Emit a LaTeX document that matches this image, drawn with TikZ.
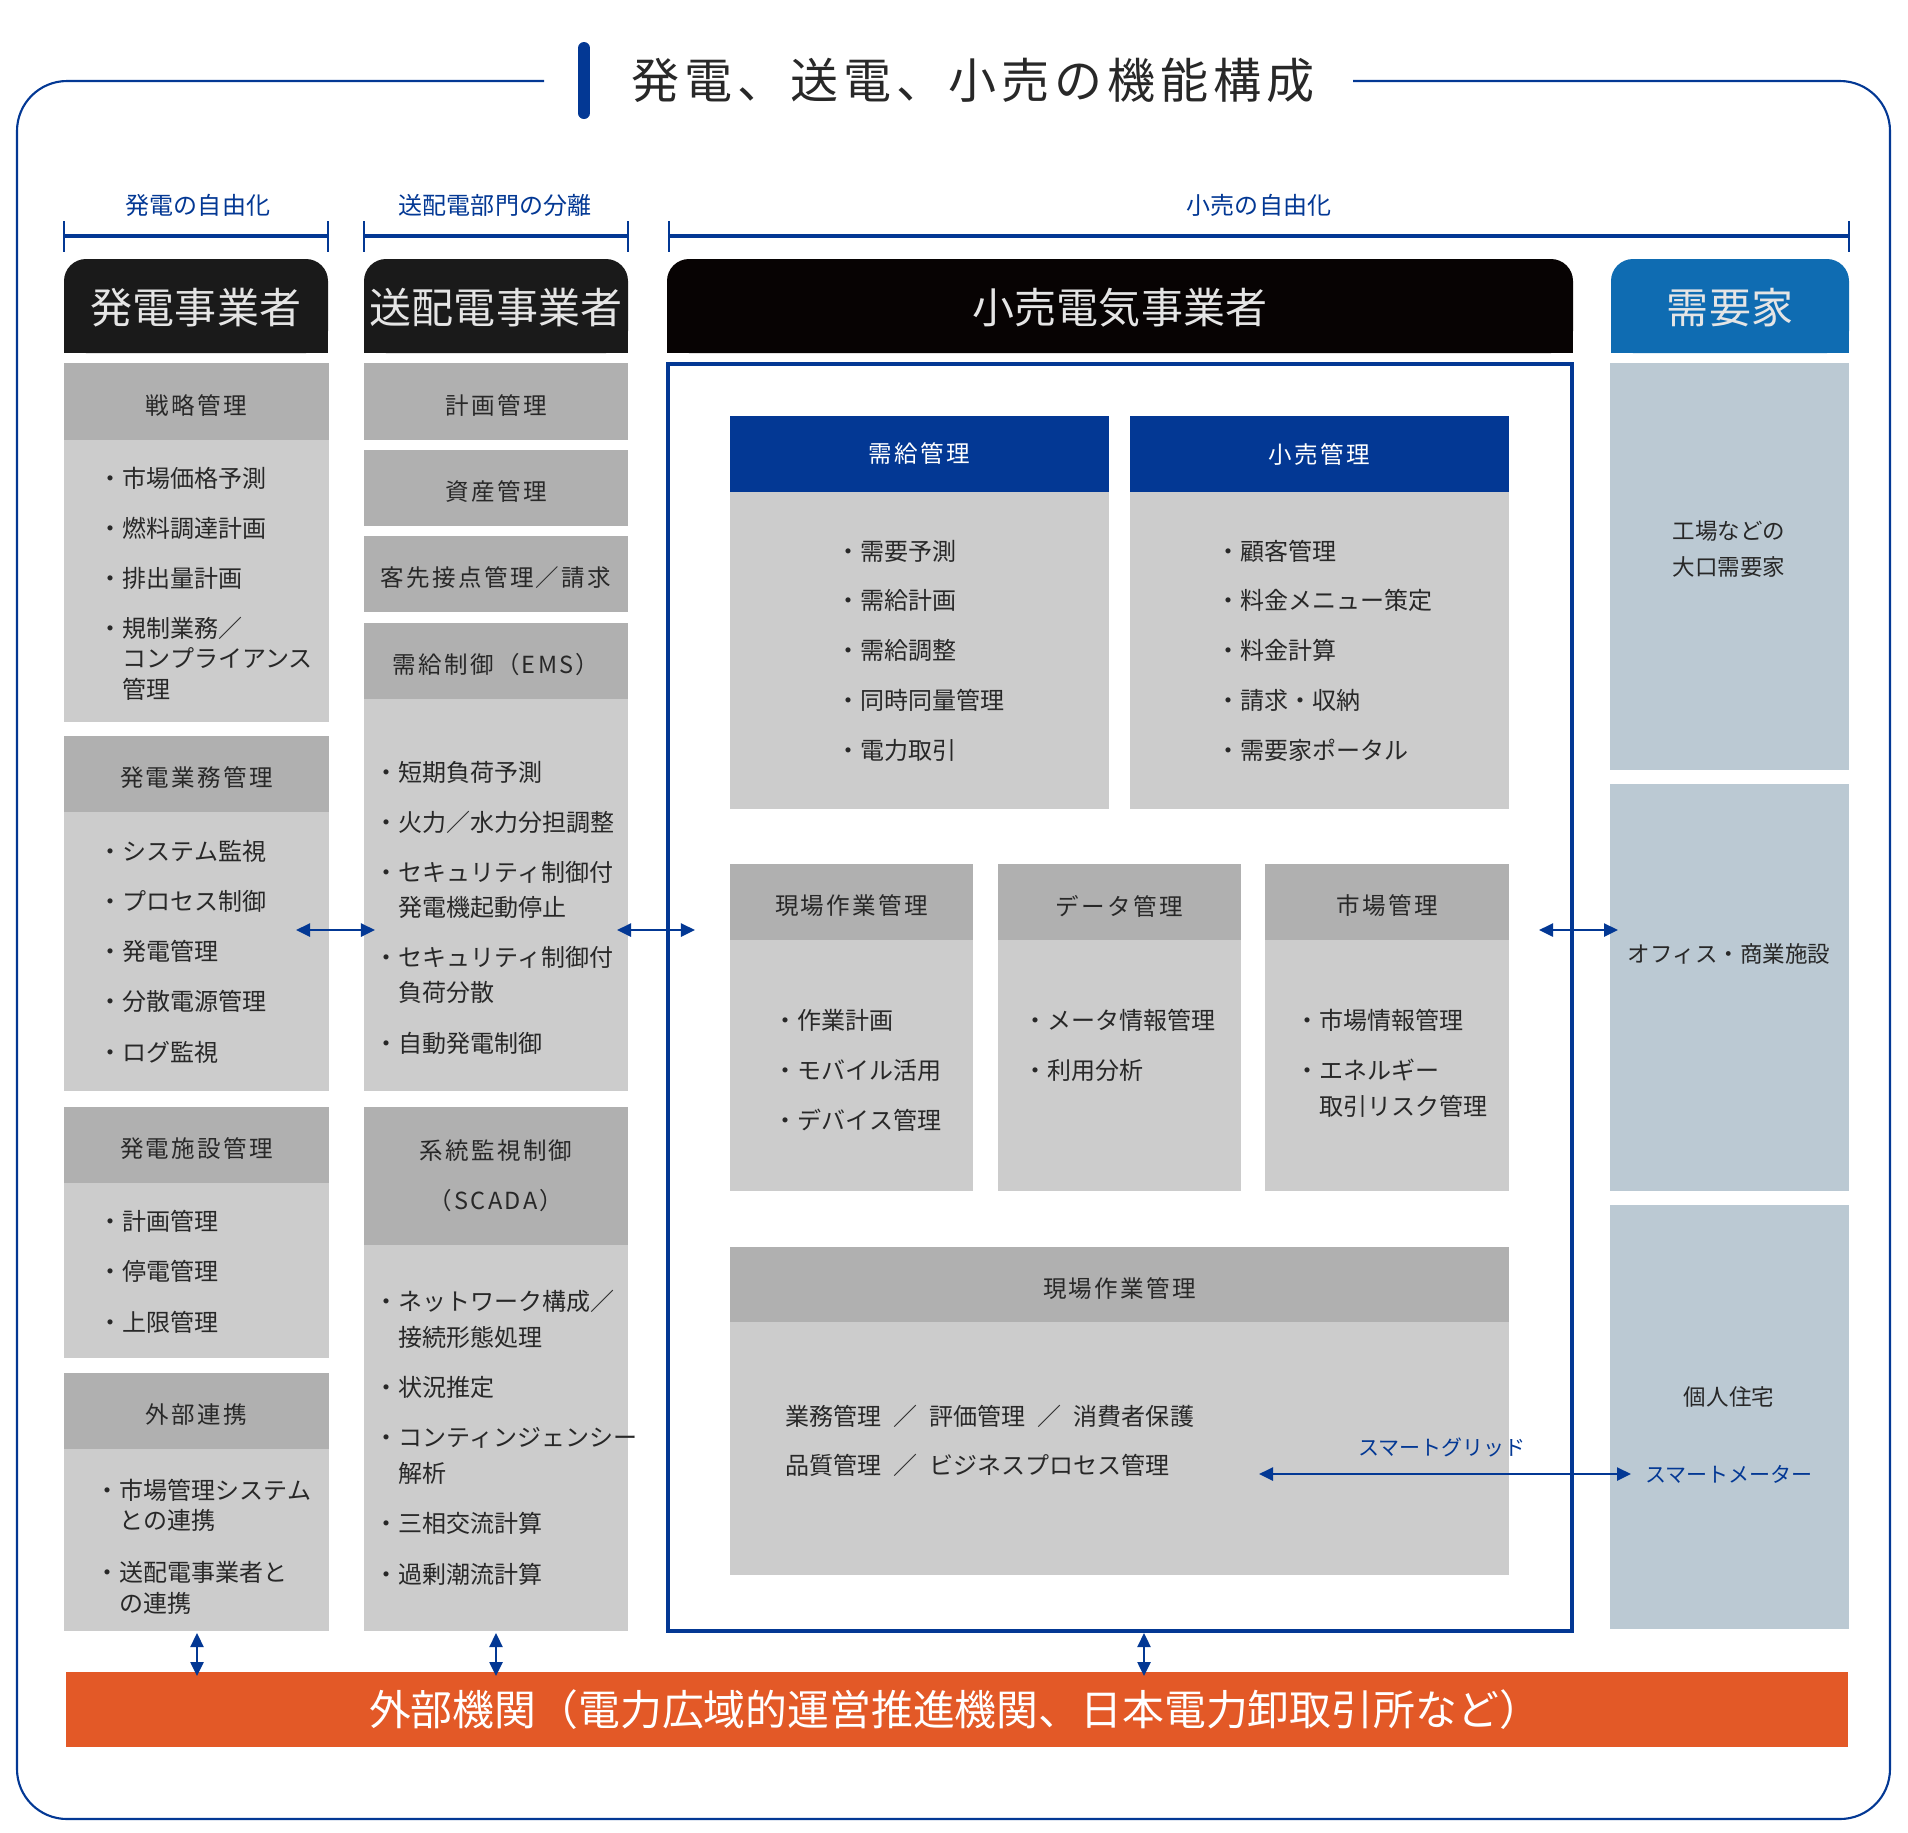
\documentclass[tikz,border=0pt]{standalone}
\usepackage{fontspec}
\setmainfont{Noto Sans CJK JP}
\newfontfamily\spacedfont[LetterSpace=10]{Noto Sans CJK JP}
\usetikzlibrary{arrows.meta,fit}

\definecolor{navy}{RGB}{3,56,148}
\definecolor{capdark}{RGB}{26,26,26}
\definecolor{capblack}{RGB}{7,3,3}
\definecolor{capblue}{RGB}{15,108,178}
\definecolor{headgray}{RGB}{176,176,176}
\definecolor{bodygray}{RGB}{204,204,204}
\definecolor{custgray}{RGB}{187,201,211}
\definecolor{extorange}{RGB}{227,89,39}
\definecolor{txt}{RGB}{40,40,40}

\newcommand\ind{\hspace*{1em}}
\newcommand\sep{\hspace{0.5em}／\hspace{0.5em}}

\begin{document}
\begin{tikzpicture}[x=0.01cm, y=-0.01cm,
    every node/.style={inner sep=0pt},
    ttl/.style={text=txt, font=\spacedfont\fontsize{13.66pt}{16pt}\selectfont},
    seclabel/.style={text=navy, font=\fontsize{6.83pt}{8pt}\selectfont},
    capbox/.style={rounded corners=0.22cm},
    captxt/.style={text=white!90!black, font=\fontsize{11.95pt}{14pt}\selectfont},
    headbox/.style={fill=headgray},
    headtxt/.style={text=txt, font=\spacedfont\fontsize{6.69pt}{14.24pt}\selectfont},
    bodybox/.style={fill=bodygray},
    lst/.style={anchor=base west, align=left, text=txt, font=\fontsize{6.83pt}{8.54pt}\selectfont},
    custbox/.style={fill=custgray},
    custtxt/.style={align=left, text=txt, font=\fontsize{6.4pt}{10.2pt}\selectfont},
    bluetxt/.style={text=navy, font=\fontsize{5.98pt}{7pt}\selectfont},
    dbl/.style={draw=navy, line width=0.7pt, {Triangle[length=0.14cm,width=0.13cm]}-{Triangle[length=0.14cm,width=0.13cm]}}]
  \useasboundingbox (0,0) rectangle (1908,1832);

  % frame and title
  \draw[navy, line width=0.6pt, rounded corners=0.5cm] (544,81) -- (17,81) -- (17,1819) -- (1890,1819) -- (1890,81) -- (1353,81);
  \draw[navy, line width=0.12cm, line cap=round] (584,48) -- (584,113);
  \node[ttl] (title) at (973,80) {発電、送電、小売の機能構成};

  % brackets
  \foreach \a/\b in {64/328, 364/628, 669/1849} {
    \draw[navy, line width=0.5pt] (\a,221) -- (\a,252) (\b,221) -- (\b,252);
    \draw[navy, line width=0.9pt] (\a,236) -- (\b,236);
  }
  \node[seclabel] (lib1) at (198,205) {発電の自由化};
  \node[seclabel] (lib2) at (495,205) {送配電部門の分離};
  \node[seclabel] (lib3) at (1259,205) {小売の自由化};

  % caps
  \fill[capdark] (64,300) rectangle (328,353);
  \node[capbox, fill=capdark, fit={(64,259) (328,353)}] (gen) {};
  \node[captxt] (gent) at (196,308) {発電事業者};
  \fill[capdark] (364,300) rectangle (628,353);
  \node[capbox, fill=capdark, fit={(364,259) (628,353)}] (grid) {};
  \node[captxt] (gridt) at (496,308) {送配電事業者};
  \fill[capblack] (667,300) rectangle (1573,353);
  \node[capbox, fill=capblack, fit={(667,259) (1573,353)}] (retail) {};
  \node[captxt] (retailt) at (1120,308) {小売電気事業者};
  \fill[capblue] (1611,300) rectangle (1849,353);
  \node[capbox, fill=capblue, fit={(1611,259) (1849,353)}] (cust) {};
  \node[captxt] (custt) at (1730,308) {需要家};

  % generation column
  \node[headbox, fit={(64,363) (329,440)}] (strh) {};
  \node[headtxt] (strt) at ([yshift=-0.04cm]strh.center) {戦略管理};
  \node[bodybox, fit={(64,440) (329,722)}] (strb) {};
  \node[lst] (strl) at (98,698) {・市場価格予測\\[5.7pt]・燃料調達計画\\[5.7pt]・排出量計画\\[5.7pt]・規制業務／\\\ind コンプライアンス\\\ind 管理};

  \node[headbox, fit={(64,736) (329,812)}] (opsh) {};
  \node[headtxt] (opst) at ([yshift=-0.04cm]opsh.center) {発電業務管理};
  \node[bodybox, fit={(64,812) (329,1091)}] (opsb) {};
  \node[lst] (opsl) at (98,1061) {・システム監視\\[5.7pt]・プロセス制御\\[5.7pt]・発電管理\\[5.7pt]・分散電源管理\\[5.7pt]・ログ監視};

  \node[headbox, fit={(64,1107) (329,1183)}] (fach) {};
  \node[headtxt] (fact) at ([yshift=-0.04cm]fach.center) {発電施設管理};
  \node[bodybox, fit={(64,1183) (329,1358)}] (facb) {};
  \node[lst] (facl) at (98,1331) {・計画管理\\[5.7pt]・停電管理\\[5.7pt]・上限管理};

  \node[headbox, fit={(64,1373) (329,1449)}] (exth) {};
  \node[headtxt] (extt) at ([yshift=-0.04cm]exth.center) {外部連携};
  \node[bodybox, fit={(64,1449) (329,1631)}] (extb) {};
  \node[lst] (extl) at (95,1612) {・市場管理システム\\\ind との連携\\[6.5pt]・送配電事業者と\\\ind の連携};

  % grid column
  \node[headbox, fit={(364,363) (628,440)}] (plan) {};
  \node[headtxt] (plant) at ([yshift=-0.04cm]plan.center) {計画管理};
  \node[headbox, fit={(364,450) (628,526)}] (asset) {};
  \node[headtxt] (assett) at ([yshift=-0.04cm]asset.center) {資産管理};
  \node[headbox, fit={(364,536) (628,612)}] (bill) {};
  \node[headtxt] (billt) at ([yshift=-0.04cm]bill.center) {客先接点管理／請求};
  \node[headbox, fit={(364,623) (628,699)}] (emsh) {};
  \node[headtxt] (emst) at ([yshift=-0.04cm]emsh.center) {需給制御（EMS）};
  \node[bodybox, fit={(364,699) (628,1091)}] (emsb) {};
  \node[lst] (emsl) at (374,1052) {・短期負荷予測\\[5.7pt]・火力／水力分担調整\\[5.7pt]・セキュリティ制御付\\[1.4pt]\ind 発電機起動停止\\[5.7pt]・セキュリティ制御付\\[1.4pt]\ind 負荷分散\\[5.7pt]・自動発電制御};

  \node[headbox, fit={(364,1107) (628,1245)}] (scadah) {};
  \node[headtxt, align=center] (scadat) at (scadah.center) {系統監視制御\\（SCADA）};
  \node[bodybox, fit={(364,1245) (628,1631)}] (scadab) {};
  \node[lst] (scadal) at (374,1583) {・ネットワーク構成／\\[1.7pt]\ind 接続形態処理\\[5.7pt]・状況推定\\[5.7pt]・コンティンジェンシー\\[1.7pt]\ind 解析\\[5.7pt]・三相交流計算\\[5.7pt]・過剰潮流計算};

  % retail frame
  \node[draw=navy, line width=1.2pt, fit={(668,364) (1572,1631)}] (rframe) {};

  \node[headbox, fill=navy, fit={(730,416) (1109,492)}] (sdh) {};
  \node[headtxt, text=white] (sdt) at (sdh.center) {需給管理};
  \node[bodybox, fit={(730,492) (1109,809)}] (sdb) {};
  \node[lst] (sdl) at (836,759) {・需要予測\\[5.6pt]・需給計画\\[5.6pt]・需給調整\\[5.6pt]・同時同量管理\\[5.6pt]・電力取引};

  \node[headbox, fill=navy, fit={(1130,416) (1509,492)}] (rmh) {};
  \node[headtxt, text=white] (rmt) at (rmh.center) {小売管理};
  \node[bodybox, fit={(1130,492) (1509,809)}] (rmb) {};
  \node[lst] (rml) at (1216,759) {・顧客管理\\[5.6pt]・料金メニュー策定\\[5.6pt]・料金計算\\[5.6pt]・請求・収納\\[5.6pt]・需要家ポータル};

  \node[headbox, fit={(730,864) (973,940)}] (fwh) {};
  \node[headtxt] (fwt) at ([yshift=-0.04cm]fwh.center) {現場作業管理};
  \node[bodybox, fit={(730,940) (973,1191)}] (fwb) {};
  \node[lst] (fwl) at (773,1129) {・作業計画\\[5.6pt]・モバイル活用\\[5.6pt]・デバイス管理};

  \node[headbox, fit={(998,864) (1241,940)}] (dath) {};
  \node[headtxt] (datt) at ([yshift=-0.04cm]dath.center) {データ管理};
  \node[bodybox, fit={(998,940) (1241,1191)}] (datb) {};
  \node[lst] (datl) at (1023,1079) {・メータ情報管理\\[5.6pt]・利用分析};

  \node[headbox, fit={(1265,864) (1509,940)}] (mkth) {};
  \node[headtxt] (mktt) at ([yshift=-0.04cm]mkth.center) {市場管理};
  \node[bodybox, fit={(1265,940) (1509,1191)}] (mktb) {};
  \node[lst] (mktl) at (1295,1115) {・市場情報管理\\[5.6pt]・エネルギー\\[1.7pt]\ind 取引リスク管理};

  \node[headbox, fit={(730,1247) (1509,1322)}] (fw2h) {};
  \node[headtxt] (fw2t) at ([yshift=-0.04cm]fw2h.center) {現場作業管理};
  \node[bodybox, fit={(730,1322) (1509,1575)}] (fw2b) {};
  \node[lst] (fw2l) at (785,1474) {業務管理\sep 評価管理\sep 消費者保護\\[5.4pt]品質管理\sep ビジネスプロセス管理};
  \node[bluetxt] (sgrid) at (1442,1447) {スマートグリッド};

  % customers
  \node[custbox, fit={(1610,363) (1849,770)}] (big) {};
  \node[custtxt] (bigt) at (1729,549) {工場などの\\大口需要家};
  \node[custbox, fit={(1610,784) (1849,1191)}] (office) {};
  \node[custtxt] (officet) at (1729,954) {オフィス・商業施設};
  \node[custbox, fit={(1610,1205) (1849,1629)}] (home) {};
  \node[custtxt] (homet) at (1729,1397) {個人住宅};
  \node[bluetxt] (smeter) at (1729,1474) {スマートメーター};

  % external bodies
  \node[fill=extorange, fit={(66,1672) (1848,1747)}] (ext) {};
  \node[text=white, font=\fontsize{11.9pt}{14pt}\selectfont] (extt) at (955,1710) {外部機関（電力広域的運営推進機関、日本電力卸取引所など）};

  % arrows
  \coordinate (g1) at (296,930);  \coordinate (g2) at (375,930);
  \coordinate (t1) at (617,930);  \coordinate (t2) at (695,930);
  \coordinate (c1) at (1539,930); \coordinate (c2) at (1618,930);
  \coordinate (s1) at (1259,1474); \coordinate (s2) at (1631,1474);
  \coordinate (v1) at (197,1633); \coordinate (w1) at (197,1676);
  \coordinate (v2) at (496,1633); \coordinate (w2) at (496,1676);
  \coordinate (v3) at (1144,1633); \coordinate (w3) at (1144,1676);
  \draw[dbl] (g1) -- (g2);
  \draw[dbl] (t1) -- (t2);
  \draw[dbl] (c1) -- (c2);
  \draw[dbl] (s1) -- (s2);
  \draw[dbl] (v1) -- (w1);
  \draw[dbl] (v2) -- (w2);
  \draw[dbl] (v3) -- (w3);
\end{tikzpicture}
\end{document}
